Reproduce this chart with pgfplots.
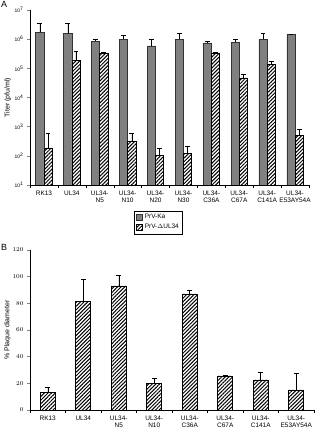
\documentclass[border=0pt]{standalone}
\usepackage{pgfplots}
\pgfplotsset{compat=1.18}
\usepackage{pgfplotstable}
\usepackage{fontspec}
\setmainfont{Liberation Sans}
\usetikzlibrary{patterns.meta}
\definecolor{kagray}{RGB}{128,128,128}

\pgfplotstableread{
x   ka      kaerr   dl      dlerr
0   1.7e6   1.7e6   186     430
1   1.55e6  1.85e6  1.9e5   2.1e5
2   8.6e5   1.4e5   3.2e5   0.5e5
3   1.0e6   0.4e6   316     284
4   5.9e5   4.1e5   103     75
5   1.0e6   0.6e6   124     89
6   7.4e5   1.0e5   3.4e5   0.3e5
7   7.9e5   1.9e5   4.7e4   1.5e4
8   1.0e6   5.5e5   1.36e5  3.4e4
9   1.5e6   0       500     290
}\tableA

\pgfplotstableread{
x   d     derr
0   13    4
1   81.5  16.5
2   93    8
3   20    4
4   87    3
5   25.5  0.5
6   22.5  5.5
7   15    12.5
}\tableB

\tikzset{hatchbar/.style={draw=black, line width=0.6pt, fill=white,
  postaction={pattern={Lines[angle=45,distance=2.6pt,line width=1.0pt]}}}}

\begin{document}
\begin{tikzpicture}
\useasboundingbox (0,0) rectangle (319bp,430bp);

% Panel A
\begin{axis}[
  at={(30bp,245bp)}, anchor=south west,
  scale only axis, width=279bp, height=175bp,
  ymode=log, ymin=10, ymax=1e7,
  xmin=-0.5, xmax=9.5,
  axis lines*=left, axis line style={-, line width=0.5pt},
  tick align=outside, major tick length=3bp,
  ybar=0pt, bar width=8.2bp,
  ytick={10,100,1000,10000,100000,1000000,10000000},
  yticklabels={10\textsuperscript{1},10\textsuperscript{2},10\textsuperscript{3},10\textsuperscript{4},10\textsuperscript{5},10\textsuperscript{6},10\textsuperscript{7}},
  yticklabel style={font=\fontsize{5}{6}\selectfont},
  yminorticks=false,
  xtick={0,...,9},
  xticklabels={RK13,UL34,UL34-\\N5,UL34-\\N10,UL34-\\N20,UL34-\\N30,UL34-\\C36A,UL34-\\C67A,UL34-\\C141A,UL34-\\E53AY54A},
  xticklabel style={font=\fontsize{6.5}{7.5}\selectfont, align=center, anchor=north, yshift=1bp},
  x tick style={draw=none},
  extra x ticks={-0.5,0.5,...,9.5},
  extra x tick labels={},
  extra x tick style={x tick style={draw=black, line width=0.4pt}, major tick length=3bp},
  ytick style={line width=0.4pt},
  ylabel={Titer (pfu/ml)},
  ylabel style={font=\fontsize{7}{8}\selectfont, at={(axis description cs:-0.055,0.5)}, anchor=south},
  legend style={at={(axis description cs:0.4606,-0.214)}, anchor=center,
    draw=black, line width=0.4pt, font=\fontsize{6.5}{7.5}\selectfont,
    inner sep=1.5pt, row sep=0pt, legend cell align=left},
  legend image code/.code={\draw[#1] (0bp,-2.5bp) rectangle (6bp,3bp);},
  error bars/y dir=plus, error bars/y explicit,
  error bars/error mark options={rotate=90, mark size=2.4bp, line width=0.5pt},
  error bars/error bar style={line width=0.5pt, black},
]
\addplot[fill=kagray, draw=black!80, line width=0.6pt] table[x=x, y=ka, y error plus=kaerr] {\tableA};
\addplot[hatchbar] table[x=x, y=dl, y error plus=dlerr] {\tableA};
\legend{PrV-Ka, PrV-$\Delta$UL34}
\end{axis}

% Panel B
\begin{axis}[
  at={(30bp,20bp)}, anchor=south west,
  scale only axis, width=284bp, height=160bp,
  ymin=0, ymax=120,
  xmin=-0.5, xmax=7.5,
  axis lines*=left, axis line style={-, line width=0.5pt},
  tick align=outside, major tick length=3bp,
  ybar, bar width=15bp,
  ytick={0,20,...,120},
  yticklabel style={font=\fontsize{6.5}{7.5}\selectfont},
  xtick={0,...,7},
  xticklabels={RK13,UL34,UL34-\\N5,UL34-\\N10,UL34-\\C36A,UL34-\\C67A,UL34-\\C141A,UL34-\\E53AY54A},
  xticklabel style={font=\fontsize{6.5}{7.5}\selectfont, align=center, anchor=north, yshift=1bp},
  x tick style={draw=none},
  extra x ticks={-0.5,0.5,...,7.5},
  extra x tick labels={},
  extra x tick style={x tick style={draw=black, line width=0.4pt}, major tick length=3bp},
  ytick style={line width=0.4pt},
  ylabel={\% Plaque diameter},
  ylabel style={font=\fontsize{7}{8}\selectfont, at={(axis description cs:-0.055,0.5)}, anchor=south},
  error bars/y dir=plus, error bars/y explicit,
  error bars/error mark options={rotate=90, mark size=2.4bp, line width=0.5pt},
  error bars/error bar style={line width=0.5pt, black},
]
\addplot[hatchbar] table[x=x, y=d, y error plus=derr] {\tableB};
\end{axis}

\node[anchor=north west, font=\fontsize{9}{10}\selectfont, inner sep=0pt] at (1bp,429bp) {A};
\node[anchor=north west, font=\fontsize{9}{10}\selectfont, inner sep=0pt] at (1bp,186bp) {B};
\end{tikzpicture}
\end{document}
